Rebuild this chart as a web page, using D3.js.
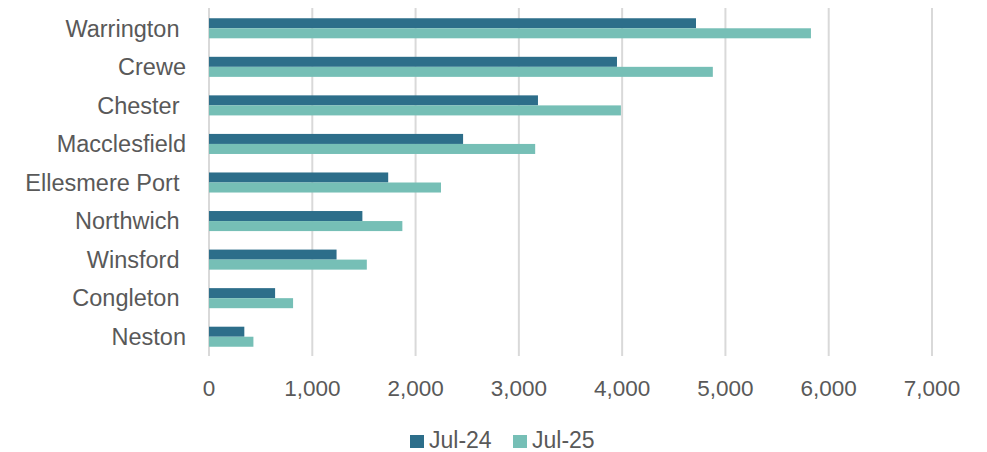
<!DOCTYPE html>
<html>
<head>
<meta charset="utf-8">
<script src="https://cdn.jsdelivr.net/npm/d3@7"></script>
<style>
  html, body { margin: 0; padding: 0; background: #fff; }
  svg { display: block; font-family: "Liberation Sans", Arial, sans-serif; }
</style>
</head>
<body>
<svg id="chart" width="987" height="452"></svg>
<script>
// Towns, listed top to bottom
const towns = ["Warrington ", "Crewe", "Chester ", "Macclesfield", "Ellesmere Port ",
               "Northwich ", "Winsford ", "Congleton ", "Neston"];
const seriesNames = ["Jul-24", "Jul-25"];
const jul24 = [4715, 3950, 3185, 2460, 1735, 1485, 1235, 640, 342];
const jul25 = [5828, 4878, 3988, 3158, 2246, 1872, 1528, 814, 430];
const xTicks = [0, 1000, 2000, 3000, 4000, 5000, 6000, 7000];
const colors = ["#2d6e8a", "#76bfb6"];

const svg = d3.select("#chart");
const margin = { left: 209, right: 55, top: 9, bottom: 96 };
const W = 987, H = 452;

const x = d3.scaleLinear().domain([0, 7000]).range([margin.left, 932]);
const y = d3.scaleBand().domain(towns).range([margin.top, H - margin.bottom]).paddingInner(0.48).paddingOuter(0.24);

// Vertical gridlines
svg.append("g").selectAll("line").data(xTicks).join("line")
  .attr("x1", d => x(d)).attr("x2", d => x(d))
  .attr("y1", margin.top - 1).attr("y2", H - margin.bottom)
  .attr("stroke", "#d9d9d9").attr("stroke-width", 2);

// Bars: two series stacked within each band
const half = y.bandwidth() / 2;
const rows = towns.map((t, i) => ({ t, v: [jul24[i], jul25[i]] }));
const g = svg.append("g");
rows.forEach(r => {
  r.v.forEach((v, k) => {
    g.append("rect")
      .attr("x", x(0))
      .attr("y", y(r.t) + k * half)
      .attr("width", x(v) - x(0))
      .attr("height", half)
      .attr("fill", colors[k]);
  });
});

// Category labels
svg.append("g").selectAll("text").data(towns).join("text")
  .attr("x", 186)
  .attr("y", d => y(d) + y.bandwidth() / 2)
  .attr("dy", "0.35em")
  .attr("text-anchor", "end")
  .attr("xml:space", "preserve")
  .style("white-space", "pre")
  .attr("font-size", 23.5)
  .attr("fill", "#595959")
  .text(d => d);

// X tick labels
const fmt = d3.format(",");
svg.append("g").selectAll("text").data(xTicks).join("text")
  .attr("x", d => x(d))
  .attr("y", 388)
  .attr("dy", "0.35em")
  .attr("text-anchor", "middle")
  .attr("font-size", 22.5)
  .attr("fill", "#595959")
  .text(d => fmt(d));

// Legend
const legend = svg.append("g");
const lx = [410, 513];
seriesNames.forEach((s, k) => {
  legend.append("rect").attr("x", lx[k]).attr("y", 435).attr("width", 14).attr("height", 13).attr("fill", colors[k]);
  legend.append("text").attr("x", lx[k] + 19).attr("y", 440).attr("dy", "0.35em")
    .attr("font-size", 23).attr("fill", "#595959").text(s);
});
</script>
</body>
</html>
